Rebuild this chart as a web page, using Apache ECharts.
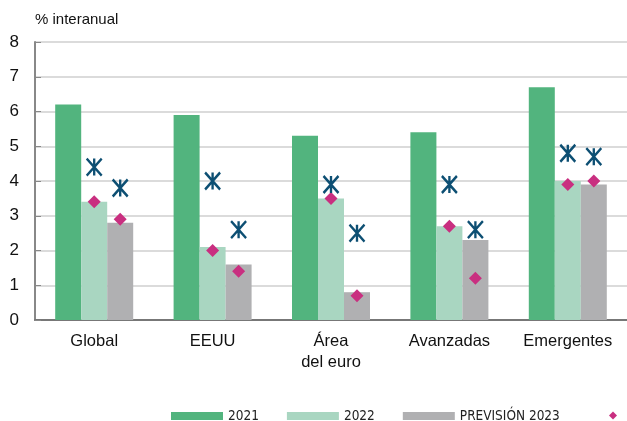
<!DOCTYPE html>
<html>

<head>
    <meta charset="utf-8">
    <script src="https://cdn.jsdelivr.net/npm/echarts@6/dist/echarts.min.js"></script>
</head>

<body style="margin:0;background:#fff;">
    <div id="main" style="width:627px;height:421px;"></div>

    <script>
        // datos
        var categorias = ['Global', 'EEUU', 'Área\ndel euro', 'Avanzadas', 'Emergentes'];
        var serie2021 = [6.2, 5.9, 5.3, 5.4, 6.7];
        var serie2022 = [3.4, 2.1, 3.5, 2.7, 4.0];
        var serie2023 = [2.8, 1.6, 0.8, 2.3, 3.9];
        var rombo2022 = [3.4, 2.0, 3.5, 2.7, 3.9];
        var rombo2023 = [2.9, 1.4, 0.7, 1.2, 4.0];
        var aspa2022 = [4.4, 4.0, 3.9, 3.9, 4.8];
        var aspa2023 = [3.8, 2.6, 2.5, 2.6, 4.7];

        var verde = '#52b47e';
        var verdeClaro = '#a9d6c1';
        var gris = '#b0b0b2';
        var rosa = '#c92f80';
        var azul = '#0d4f73';
        var aspa = 'path://M0,0L14,16M14,0L0,16M7,0L7,16';

        var myChart = echarts.init(document.getElementById('main'));
        var option = {
            backgroundColor: '#fff',
            textStyle: { fontFamily: 'Liberation Sans, Arial, sans-serif' },
            grid: { left: 35, right: 0, top: 42, bottom: 101 },
            legend: [
                {
                    data: ['2021', '2022', 'PREVISIÓN 2023'],
                    left: 166,
                    top: 404,
                    itemWidth: 52,
                    itemHeight: 8,
                    itemGap: 28,
                    icon: 'rect',
                    textStyle: { fontFamily: 'DejaVu Sans Condensed, sans-serif', fontSize: 13.5, color: '#222' }
                },
                {
                    data: [' '],
                    left: 604,
                    top: 404,
                    itemWidth: 8,
                    itemHeight: 8,
                    icon: 'diamond',
                    textStyle: { fontSize: 13 }
                }
            ],
            xAxis: {
                type: 'category',
                data: categorias,
                axisLine: { lineStyle: { color: '#777', width: 2 } },
                axisTick: { inside: true, length: 5, lineStyle: { color: '#777' } },
                axisLabel: { fontSize: 16.5, color: '#111', lineHeight: 21, margin: 11 }
            },
            yAxis: {
                type: 'value',
                min: 0,
                max: 8,
                interval: 1,
                name: '% interanual',
                nameLocation: 'end',
                nameGap: 15,
                nameTextStyle: { fontSize: 15, color: '#111', align: 'left' },
                axisLine: { show: true, lineStyle: { color: '#888', width: 2 } },
                axisTick: { show: true, inside: true, length: 6, lineStyle: { color: '#888' } },
                axisLabel: { fontSize: 17, color: '#111', margin: 16 },
                splitLine: { lineStyle: { color: '#cfcfcf', width: 1.5 } }
            },
            series: [
                { name: '2021', type: 'bar', data: serie2021, barWidth: 26, barGap: '0%', itemStyle: { color: verde } },
                { name: '2022', type: 'bar', data: serie2022, barWidth: 26, barGap: '0%', itemStyle: { color: verdeClaro } },
                { name: 'PREVISIÓN 2023', type: 'bar', data: serie2023, barWidth: 26, barGap: '0%', itemStyle: { color: gris } },
                { name: ' ', type: 'scatter', data: rombo2022, symbol: 'diamond', symbolSize: 13, itemStyle: { color: rosa, opacity: 1 }, z: 5 },
                { name: ' ', type: 'scatter', data: rombo2023, symbol: 'diamond', symbolSize: 13, symbolOffset: [26, 0], itemStyle: { color: rosa, opacity: 1 }, z: 5 },
                { name: 'aspa', type: 'scatter', data: aspa2022, symbol: aspa, symbolSize: [15, 17], itemStyle: { color: 'transparent', borderColor: azul, borderWidth: 2.5, opacity: 1 }, z: 6 },
                { name: 'aspa', type: 'scatter', data: aspa2023, symbol: aspa, symbolSize: [15, 17], symbolOffset: [26, 0], itemStyle: { color: 'transparent', borderColor: azul, borderWidth: 2.5, opacity: 1 }, z: 6 }
            ]
        };

        myChart.setOption(option);
    </script>
</body>

</html>
